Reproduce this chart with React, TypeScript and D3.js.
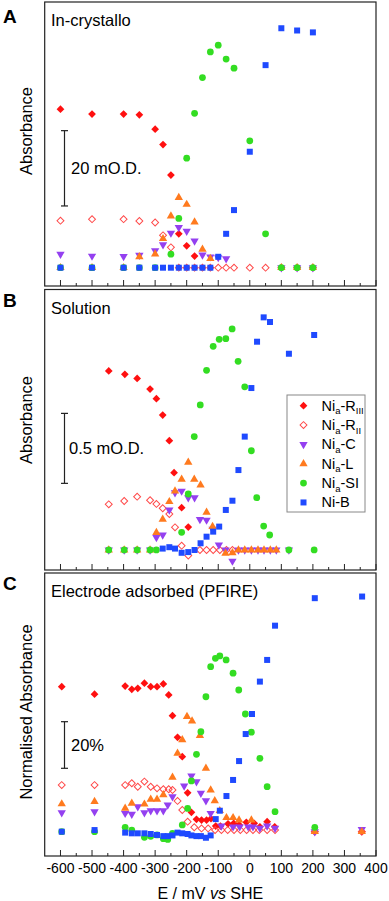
import React from "react";
import * as d3 from "d3";

const W = 389;
const H = 901;
const FONT = "'Liberation Sans', Arial, sans-serif";

// x axis (mV vs SHE)
const xMajor = [-600, -500, -400, -300, -200, -100, 0, 100, 200, 300, 400];
const xMinor = [-550, -450, -350, -250, -150, -50, 50, 150, 250, 350];

// Panel A: in-crystallo, mO.D.
const aRIII = [[-600, 42.1], [-500, 40.8], [-400, 40.8], [-350, 40.6], [-300, 36.8], [-275, 32.7], [-250, 24.6], [-225, 9.0], [-200, 5.8], [-175, 3.1]];
const aRII = [[-600, 12.5], [-500, 12.9], [-400, 12.9], [-350, 12.4], [-300, 12.0], [-275, 8.6], [-250, 5.4], [-225, 0], [-200, 0], [-175, 0], [-150, 0], [-125, 0], [-100, 0], [-75, 0], [-50, 0], [0, 0], [50, 0], [100, 0], [150, 0], [200, 0]];
const aC = [[-600, 3.6], [-500, 3.1], [-400, 3.0], [-350, 3.3], [-300, 4.5], [-275, 6.1], [-250, 9.2], [-225, 10.7], [-200, 9.7], [-175, 7.1], [-150, 3.4], [-125, 2.9], [-100, 2.7], [-75, 2.4], [100, 0], [150, 0], [200, 0]];
const aL = [[-600, 0], [-500, 0], [-400, 0], [-350, 2.9], [-300, 3.6], [-275, 7.7], [-250, 13.7], [-225, 18.6], [-200, 16.8], [-175, 12.1], [-150, 4.9], [-125, 2.4], [100, 0], [150, 0], [200, 0]];
const aSI = [[-600, 0], [-500, 0], [-400, 0], [-350, 0], [-300, 0], [-250, 3.6], [-225, 13.1], [-200, 29.1], [-175, 41.0], [-150, 50.5], [-125, 57.3], [-100, 59.1], [-75, 55.4], [-50, 53.0], [0, 33.7], [50, 9.0], [100, 0], [150, 0], [200, 0]];
const aB = [[-600, 0], [-500, 0], [-400, 0], [-350, 0], [-300, 0], [-275, 0], [-250, 0], [-225, 0], [-200, 0], [-175, 0], [-150, 0], [-125, 0], [-100, 2.9], [-75, 9.0], [-50, 15.3], [0, 30.8], [50, 53.8], [100, 63.6], [150, 63.0], [200, 62.5]];

// Panel B: solution, mO.D.
const bRIII = [[-447, 1.279], [-396, 1.255], [-357, 1.226], [-316, 1.15], [-296, 1.081], [-276, 0.964], [-255, 0.781], [-240, 0.552], [-216, 0.302], [-195, 0.164]];
const bRII = [[-447, 0.326], [-398, 0.35], [-357, 0.381], [-316, 0.355], [-296, 0.329], [-276, 0.298], [-255, 0.257], [-237, 0.162], [-216, 0.031], [-195, -0.04], [-158, 0], [-137, 0], [-116, 0], [-95, 0], [-74, 0], [-55, 0]];
const bC = [[-447, 0], [-398, 0], [-357, 0], [-316, 0], [-296, 0.09], [-276, 0.107], [-255, 0.286], [-237, 0.41], [-216, 0.421], [-195, 0.374], [-175, 0.374], [-158, 0.219], [-137, 0.214], [-118, 0.148], [-98, 0.036], [-77, 0], [-55, -0.079], [-36, 0], [-16, 0], [5, 0], [26, 0], [45, 0], [65, 0], [84, 0], [124, 0]];
const bL = [[-447, 0], [-398, 0], [-357, 0], [-316, 0], [-296, 0.124], [-276, 0.219], [-255, 0.345], [-237, 0.421], [-216, 0.505], [-195, 0.626], [-176, 0.505], [-156, 0.464], [-137, 0.269], [-118, 0.167], [-77, -0.024], [-55, -0.02], [-36, 0], [-16, 0], [5, 0], [26, 0], [45, 0], [65, 0], [84, 0]];
const bSI = [[-447, 0], [-398, 0], [-357, 0], [-316, 0], [-296, 0], [-216, 0.126], [-195, 0.4], [-176, 0.81], [-157, 1.036], [-137, 1.284], [-116, 1.455], [-97, 1.505], [-76, 1.51], [-56, 1.579], [-37, 1.348], [-16, 1.166], [5, 0.709], [22, 0.374], [44, 0.171], [63, 0.107], [124, 0], [204, 0]];
const bB = [[-276, 0.01], [-255, 0.02], [-237, 0.01], [-216, -0.02], [-195, -0.015], [-175, 0], [-156, 0.048], [-137, 0.095], [-116, 0.131], [-97, 0.167], [-76, 0.286], [-55, 0.352], [-36, 0.571], [-16, 0.81], [5, 1.157], [23, 1.488], [44, 1.662], [64, 1.629], [124, 1.402], [204, 1.536]];

// Panel C: electrode adsorbed (PFIRE), %
const cRIII = [[-596, 62.2], [-492, 59], [-395, 62.5], [-374, 61.1], [-355, 61.5], [-334, 63.7], [-314, 62.2], [-294, 62.2], [-274, 63.4], [-257, 58.7], [-245, 49.8], [-229, 40.5], [-214, 32.2], [-197, 16.7], [-185, 8.3], [-169, 5.3], [-153, 5.0], [-137, 5.0], [-123, 5.6], [-108, 2.4], [-93, 2.4], [-69, 3.4], [-51, 3.6], [-34, 3.0], [-11, 4.0], [14, 3.6], [32, 2.1], [55, 4.3], [79, 2.1], [206, 0], [355, 0]];
const cRII = [[-596, 20], [-492, 20], [-395, 20], [-374, 20.8], [-355, 19.3], [-334, 21.5], [-314, 19.3], [-294, 18.6], [-274, 18.2], [-257, 18.2], [-245, 17.9], [-229, 13.2], [-214, 9.3], [-197, 4.3], [-176, 1.9], [-153, 1.4], [-132, 1.4], [-110, 0.7], [-90, 0.7], [-70, 0.7], [-50, 0.7], [-30, 0.7], [-10, 0.7], [10, 0.7], [30, 0.7], [55, 0.7], [80, 0.7], [206, 0], [355, 0]];
const cC = [[-596, 8.2], [-492, 8.6], [-395, 7.9], [-374, 7.5], [-355, 10.7], [-334, 8.2], [-314, 9.0], [-294, 9.0], [-274, 9.0], [-260, 11.5], [-245, 15.0], [-208, 19.6], [-185, 23.9], [-169, 21.5], [-155, 16.5], [-139, 13.3], [-124, 7.9], [-90, 2.5], [-53, 2.1], [-32, 2.1], [-5, 2.1], [10, 2.1], [32, 1.5], [55, 2.5], [80, 1.5], [206, 0], [355, 1.0]];
const cL = [[-596, 11.9], [-492, 12.9], [-395, 10.0], [-374, 12.2], [-334, 11.8], [-314, 13.9], [-294, 13.9], [-274, 15.8], [-245, 23.3], [-229, 33.6], [-214, 39.4], [-199, 49.4], [-183, 47.5], [-158, 41.2], [-139, 27.2], [-124, 17.9], [-111, 13.2], [-95, 9.0], [-74, 6.0], [-53, 6.0], [-34, 5.0], [5, 5.0], [206, 0], [355, 0]];
const cSI = [[-596, 0], [-492, 0], [-395, 1.9], [-374, 0.7], [-334, -2.4], [-314, -2.0], [-294, -1.4], [-274, -3.0], [-260, -3.3], [-245, -0.7], [-214, 2.9], [-197, 10.0], [-185, 21.8], [-169, 33.2], [-155, 42.9], [-139, 57.9], [-124, 70.8], [-109, 74.4], [-95, 75.4], [-75, 73.7], [-53, 68.0], [-35, 60.8], [-14, 50.5], [5, 42.7], [32, 31.5], [55, 19.3], [80, 8.6], [206, 1.9]];
const cB = [[-596, 0], [-492, 0.7], [-395, -0.4], [-374, -0.7], [-355, -0.7], [-334, -0.7], [-314, -1.0], [-294, -1.4], [-274, -1.9], [-260, -1.9], [-245, -1.6], [-229, -0.4], [-214, -0.7], [-197, -1.0], [-185, -1.6], [-169, -1.9], [-155, -1.9], [-139, -2.6], [-124, -1.6], [-108, 5.4], [-95, 9.0], [-74, 15.3], [-53, 22.2], [-34, 30.3], [-13, 41.9], [7, 50.5], [32, 64.4], [55, 73.7], [80, 88.4], [206, 100.2], [356, 100.9]];

const kinds = ["RIII", "RII", "C", "L", "SI", "B"];
const colors: Record<string, string> = {
  RIII: "#ff1010",
  RII: "#ff4a4a",
  C: "#9440f0",
  L: "#ff7a1e",
  SI: "#33dd22",
  B: "#1f4aff",
};
const legendSub = [["a", "-R", "III"], ["a", "-R", "II"], ["a", "-C", ""], ["a", "-L", ""], ["a", "-SI", ""], ["", "-B", ""]];

const panels = [
  { letter: "A", title: "In-crystallo", top: 2, bottom: 286, domain: [-4.86, 70.57], yLabel: "Absorbance", yLabelAt: 131, bar: [16.4, 36.4], barText: "20 mO.D.", series: [aRIII, aRII, aC, aL, aSI, aB] },
  { letter: "B", title: "Solution", top: 289.5, bottom: 570, domain: [-0.143, 1.861], yLabel: "Absorbance", yLabelAt: 420, bar: [0.476, 0.976], barText: "0.5 mO.D.", series: [bRIII, bRII, bC, bL, bSI, bB] },
  { letter: "C", title: "Electrode adsorbed (PFIRE)", top: 573, bottom: 856, domain: [-10.43, 111.0], yLabel: "Normalised Absorbance", yLabelAt: 712, bar: [27.2, 47.2], barText: "20%", series: [cRIII, cRII, cC, cL, cSI, cB] },
];

const x = d3.scaleLinear().domain([-650, 400]).range([44.7, 376]);

const sq = d3.symbol(d3.symbolSquare, 30)();
const openSq = d3.symbol(d3.symbolSquare, 24)();
const tri = d3.symbol(d3.symbolTriangle, 30)();
const circ = d3.symbol(d3.symbolCircle, 36)();
const box = d3.symbol(d3.symbolSquare, 36)();

function Marker({ kind, cx, cy }: { kind: string; cx: number; cy: number }) {
  const c = colors[kind];
  const t = `translate(${cx},${cy})`;
  if (kind === "RIII") return <path d={sq} transform={`${t} rotate(45)`} fill={c} />;
  if (kind === "RII") return <path d={openSq} transform={`${t} rotate(45)`} fill="none" stroke={c} strokeWidth={1} />;
  if (kind === "C") return <path d={tri} transform={`${t} rotate(180)`} fill={c} />;
  if (kind === "L") return <path d={tri} transform={t} fill={c} />;
  if (kind === "SI") return <path d={circ} transform={t} fill={c} />;
  return <path d={box} transform={t} fill={c} />;
}

function Panel({ p, last }: { p: (typeof panels)[number]; last: boolean }) {
  const y = d3.scaleLinear().domain(p.domain).range([p.bottom, p.top]);
  const barX = 64.5;
  const y0 = y(p.bar[0]);
  const y1 = y(p.bar[1]);
  return (
    <g>
      <rect x={x(-650)} y={p.top} width={x(400) - x(-650)} height={p.bottom - p.top} fill="none" stroke="#222" strokeWidth={1.2} />
      {xMajor.map((v) => (
        <line key={"M" + v} x1={x(v)} x2={x(v)} y1={p.bottom} y2={p.bottom - 6} stroke="#222" strokeWidth={1} />
      ))}
      {xMinor.map((v) => (
        <line key={"m" + v} x1={x(v)} x2={x(v)} y1={p.bottom} y2={p.bottom - 3} stroke="#222" strokeWidth={1} />
      ))}
      <text x={3} y={p.top + (p.letter === "A" ? 21 : 17)} fontSize={19} fontWeight="bold" fontFamily={FONT}>{p.letter}</text>
      <text x={51} y={p.top + 24} fontSize={16.5} fontFamily={FONT}>{p.title}</text>
      <text transform={`translate(32,${p.yLabelAt}) rotate(-90)`} textAnchor="middle" fontSize={16.5} fontFamily={FONT}>{p.yLabel}</text>
      <line x1={barX} x2={barX} y1={y0} y2={y1} stroke="#222" strokeWidth={1.2} />
      <line x1={barX - 3.5} x2={barX + 3.5} y1={y0} y2={y0} stroke="#222" strokeWidth={1.2} />
      <line x1={barX - 3.5} x2={barX + 3.5} y1={y1} y2={y1} stroke="#222" strokeWidth={1.2} />
      <text x={p.letter === "B" ? 69 : 71} y={(y0 + y1) / 2} dy="0.35em" fontSize={16.5} fontFamily={FONT}>{p.barText}</text>
      {p.series.map((s, i) =>
        s.map((d, j) => <Marker key={kinds[i] + j} kind={kinds[i]} cx={x(d[0])} cy={y(d[1])} />)
      )}
      {last &&
        xMajor.map((v) => (
          <text key={"t" + v} x={x(v)} y={873} textAnchor="middle" fontSize={14} fontFamily={FONT}>{v}</text>
        ))}
    </g>
  );
}

function Legend() {
  const lx = 287;
  const ly = 395;
  return (
    <g>
      <rect x={lx} y={ly} width={78} height={117} fill="white" stroke="#888" strokeWidth={1} />
      {kinds.map((k, i) => {
        const cy = 405.7 + i * 19.35;
        const [a, mid, sub] = legendSub[i];
        return (
          <g key={k}>
            <Marker kind={k} cx={303.5} cy={cy} />
            <text x={321.5} y={cy + 5} fontSize={14.5} fontFamily={FONT}>
              Ni
              {a && <tspan dy={3.5} fontSize={9.5}>{a}</tspan>}
              <tspan dy={a ? -3.5 : 0}>{mid}</tspan>
              {sub && <tspan dy={3.5} fontSize={9.5}>{sub}</tspan>}
            </text>
          </g>
        );
      })}
    </g>
  );
}

export default function App() {
  return (
    <svg width={W} height={H} style={{ position: "absolute", left: 0, top: 0, background: "white" }}>
      {panels.map((p, i) => (
        <Panel key={p.letter} p={p} last={i === panels.length - 1} />
      ))}
      <Legend />
      <text x={x(-125)} y={899} textAnchor="middle" fontSize={16} fontFamily={FONT}>
        E / mV <tspan fontStyle="italic">vs</tspan> SHE
      </text>
    </svg>
  );
}
